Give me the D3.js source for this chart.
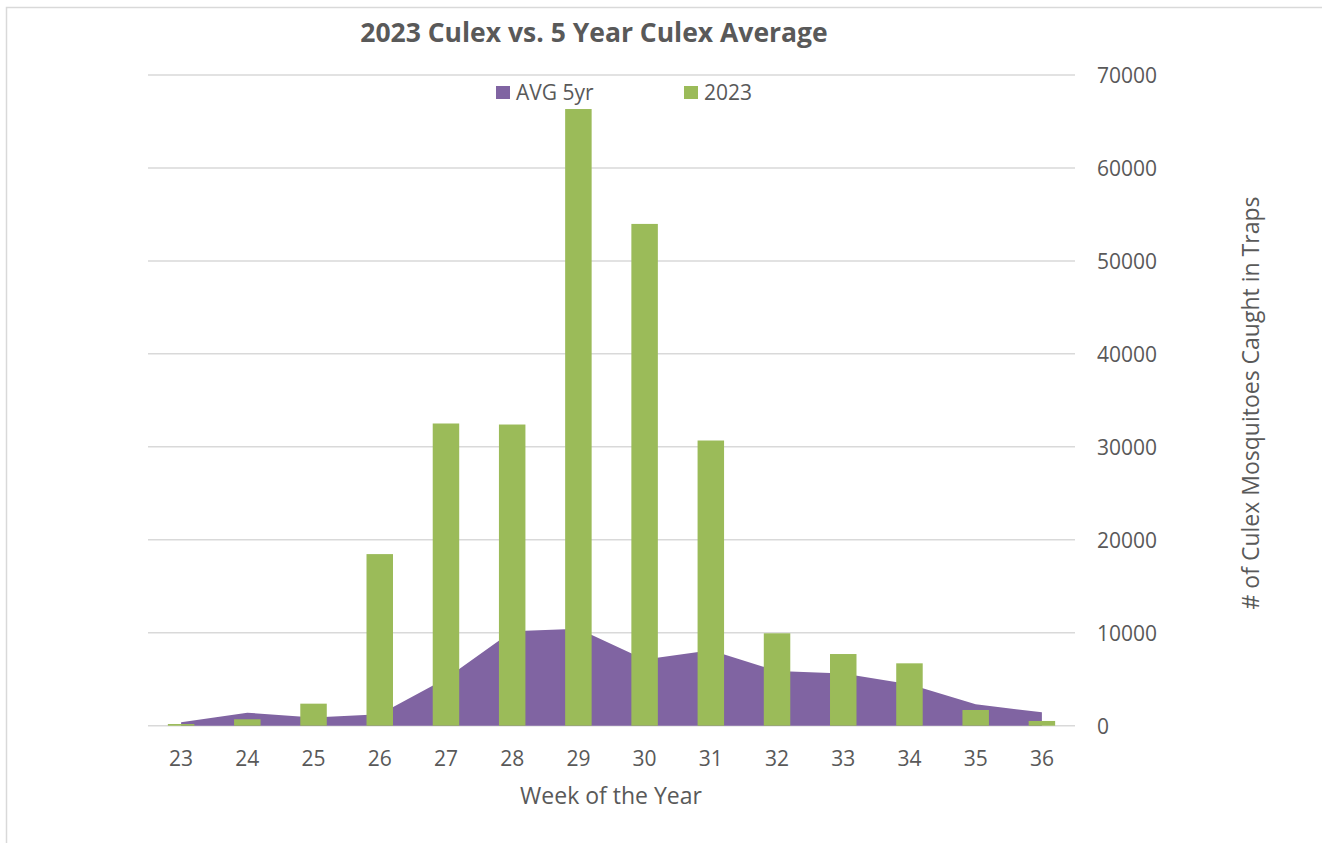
<!DOCTYPE html>
<html lang="en">
<head>
<meta charset="utf-8">
<title>2023 Culex vs. 5 Year Culex Average</title>
<script src="https://cdn.jsdelivr.net/npm/d3@7"></script>
<style>
  body { margin: 0; background: #fff; }
  svg text { font-family: "Open Sans", sans-serif; fill: #595959; }
</style>
</head>
<body>
<script>
// data
var weeks = [23, 24, 25, 26, 27, 28, 29, 30, 31, 32, 33, 34, 35, 36];
var avg5yr = [370, 1400, 880, 1220, 5070, 10170, 10420, 7130, 8120, 5880, 5620, 4460, 2300, 1440];
var y2023 = [180, 690, 2370, 18460, 32510, 32400, 66340, 53980, 30680, 9940, 7710, 6710, 1690, 510];
var yTicks = [0, 10000, 20000, 30000, 40000, 50000, 60000, 70000];

var w = 1322, h = 843;
var plotL = 148, plotR = 1075, plotT = 75, plotB = 725.7;

var svg = d3.select("body").append("svg")
    .attr("width", w)
    .attr("height", h);

// chart frame (runs off the picture on the right and bottom)
svg.append("rect")
    .attr("x", 6.5).attr("y", 7.5)
    .attr("width", 1400).attr("height", 900)
    .attr("fill", "none")
    .attr("stroke", "#d9d9d9")
    .attr("stroke-width", 1.5);

var xScale = d3.scaleBand()
    .domain(weeks)
    .range([plotL, plotR])
    .padding(0);

var yScale = d3.scaleLinear()
    .domain([0, 70000])
    .range([plotB, plotT]);

var xMid = function(d) { return xScale(d) + xScale.bandwidth() / 2; };

// gridlines
svg.append("g")
    .selectAll("line")
    .data(yTicks)
    .enter()
    .append("line")
    .attr("x1", plotL).attr("x2", plotR)
    .attr("y1", function(d) { return yScale(d); })
    .attr("y2", function(d) { return yScale(d); })
    .attr("stroke", "#d9d9d9")
    .attr("stroke-width", 1.5);

// 5 year average as an area
var area = d3.area()
    .x(function(d, i) { return xMid(weeks[i]); })
    .y0(yScale(0))
    .y1(function(d) { return yScale(d); });

svg.append("path")
    .datum(avg5yr)
    .attr("d", area)
    .attr("fill", "#8064a2");

// 2023 bars
var barW = xScale.bandwidth() / 2.5;
svg.append("g")
    .selectAll("rect")
    .data(y2023)
    .enter()
    .append("rect")
    .attr("x", function(d, i) { return xMid(weeks[i]) - barW / 2; })
    .attr("y", function(d) { return yScale(d); })
    .attr("width", barW)
    .attr("height", function(d) { return yScale(0) - yScale(d); })
    .attr("fill", "#9bbb59");

// x axis
var xAxis = d3.axisBottom(xScale).tickSize(0).tickPadding(0);
var gx = svg.append("g")
    .attr("transform", "translate(0," + plotB + ")")
    .call(xAxis);
gx.select(".domain").remove();
gx.selectAll("text")
    .attr("y", 40)
    .attr("dy", null)
    .style("font-size", "21px");

// right y axis
var yAxis = d3.axisRight(yScale)
    .tickValues(yTicks)
    .tickFormat(d3.format("d"))
    .tickSize(0)
    .tickPadding(0);
var gy = svg.append("g")
    .attr("transform", "translate(1097,0)")
    .call(yAxis);
gy.select(".domain").remove();
gy.selectAll("text")
    .attr("dy", "0.35em")
    .style("font-size", "21px");

// titles
svg.append("text")
    .attr("x", 594).attr("y", 42)
    .attr("text-anchor", "middle")
    .style("font-size", "26.5px")
    .style("font-weight", "bold")
    .text("2023 Culex vs. 5 Year Culex Average");

svg.append("text")
    .attr("x", 611).attr("y", 804)
    .attr("text-anchor", "middle")
    .style("font-size", "23px")
    .text("Week of the Year");

svg.append("text")
    .attr("transform", "translate(1259,403) rotate(-90)")
    .attr("text-anchor", "middle")
    .style("font-size", "23px")
    .text("# of Culex Mosquitoes Caught in Traps");

// legend
var legend = [["AVG 5yr", "#8064a2", 496], ["2023", "#9bbb59", 684]];
var lg = svg.append("g")
    .selectAll("g")
    .data(legend)
    .enter()
    .append("g")
    .attr("transform", function(d) { return "translate(" + d[2] + ",86)"; });
lg.append("rect")
    .attr("width", 14).attr("height", 13)
    .attr("fill", function(d) { return d[1]; });
lg.append("text")
    .attr("x", 20).attr("y", 13.5)
    .style("font-size", "21px")
    .text(function(d) { return d[0]; });
</script>
</body>
</html>
